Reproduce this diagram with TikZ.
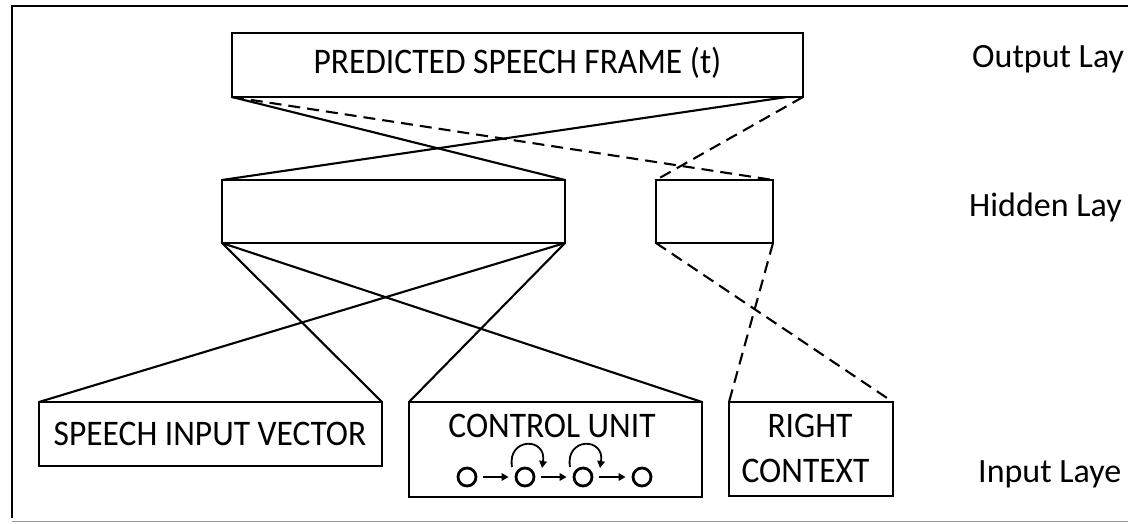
\documentclass[tikz,border=0pt]{standalone}
\usepackage{fontspec}
\setmainfont{Carlito}
\usetikzlibrary{calc,arrows.meta}
\newcommand{\nx}[1]{\scalebox{0.93}[1]{#1}}
\begin{document}
\begin{tikzpicture}[x=1pt,y=1pt,
  box/.style={draw,line width=2.5pt,inner sep=0pt,outer sep=0pt,anchor=south west},
  conn/.style={line width=2.1pt},
  dconn/.style={line width=2.1pt,dash pattern=on 12pt off 7pt},
  btxt/.style={font=\fontsize{36}{38}\selectfont,inner sep=0pt,anchor=base},
  ltxt/.style={font=\fontsize{34}{36}\selectfont,inner sep=0pt,anchor=base west},
  st/.style={draw,circle,line width=2.8pt,minimum size=18pt,inner sep=0pt},
  arr/.style={line width=1.8pt,-{Triangle[length=7pt,width=7.5pt]}}]
\useasboundingbox (0,0) rectangle (1128,523);
\clip (0,0) rectangle (1128,523);
% frame
\draw[line width=2.6pt] (12,5) -- (12,517) -- (1128,517);
\draw[line width=1pt,black!40] (12,2) -- (1128,2);
% boxes
\node[box,minimum width=571pt,minimum height=64pt] (out) at (232,426) {};
\node[box,minimum width=343pt,minimum height=63pt] (h1) at (222,280) {};
\node[box,minimum width=117pt,minimum height=63pt] (h2) at (656,280) {};
\node[box,minimum width=343pt,minimum height=64pt] (sp) at (39,57) {};
\node[box,minimum width=293pt,minimum height=95pt] (cu) at (409,26) {};
\node[box,minimum width=164pt,minimum height=94pt] (rc) at (729,27) {};
% texts
\node[btxt] (tout) at (517.5,449) {\nx{PREDICTED SPEECH FRAME (t)}};
\node[btxt] (tsp) at (210,78) {\nx{SPEECH INPUT VECTOR}};
\node[btxt] (tcu) at (552,86) {\nx{CONTROL UNIT}};
\node[btxt] (trc1) at (810,86) {\nx{RIGHT}};
\node[btxt] (trc2) at (805.5,41) {\nx{CONTEXT}};
\node[ltxt] (lo) at (972,455) {Output Lay};
\node[ltxt] (lh) at (969,306) {Hidden Lay};
\node[ltxt] (li) at (978,41) {Input Laye};
% control unit states
\node[st] (c1) at (467,46) {};
\node[st] (c2) at (525,46) {};
\node[st] (c3) at (583,46) {};
\node[st] (c4) at (642,46) {};
\draw[arr,shorten <=6pt,shorten >=6pt] (c1) -- (c2);
\draw[arr,shorten <=6pt,shorten >=6pt] (c2) -- (c3);
\draw[arr,shorten <=6pt,shorten >=6pt] (c3) -- (c4);
\draw[arr] ($(c2)+(-13,10)$) .. controls ($(c2)+(-18,40)$) and ($(c2)+(22,40)$) .. ($(c2)+(17,9)$);
\draw[arr] ($(c3)+(-13,10)$) .. controls ($(c3)+(-18,40)$) and ($(c3)+(22,40)$) .. ($(c3)+(17,9)$);
% connectors
\coordinate (oA) at ($(out.south east)+(-16,0)$);
\draw[conn] (out.south west) -- (h1.north east);
\draw[conn] (oA) -- (h1.north west);
\draw[dconn] (out.south west) -- (h2.north east);
\draw[dconn] (out.south east) -- (h2.north west);
\draw[conn] (h1.south west) -- (sp.north east);
\draw[conn] (h1.south west) -- (cu.north east);
\draw[conn] (h1.south east) -- (sp.north west);
\draw[conn] (h1.south east) -- (cu.north west);
\draw[dconn] (h2.south west) -- (rc.north east);
\draw[dconn] (h2.south east) -- (rc.north west);
\end{tikzpicture}
\end{document}
